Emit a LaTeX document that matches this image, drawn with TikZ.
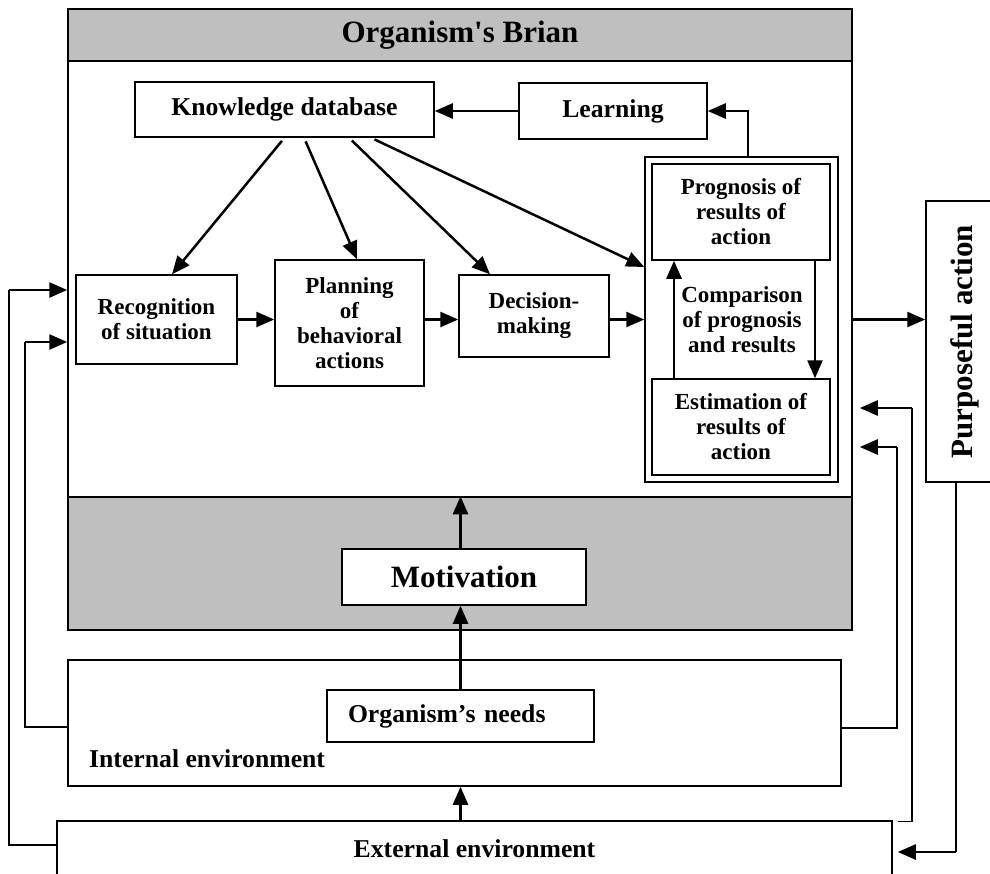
\documentclass[tikz,border=0pt]{standalone}
\usepackage{fontspec}
\setmainfont{Liberation Serif}
\usepackage{graphicx}
\usepackage{tikz}
\usetikzlibrary{arrows.meta}
\newcommand{\titlefont}{\fontsize{31}{34}\selectfont\bfseries}
\newcommand{\namefont}{\fontsize{25.7}{28}\selectfont\bfseries}
\newcommand{\boxfont}{\fontsize{23}{25}\selectfont\bfseries}
\tikzstyle{frame} = [rectangle, draw=black, line width=1.5pt, fill=white, inner sep=0pt]
\tikzstyle{band} = [rectangle, draw=black, line width=1.5pt, fill=black!25, inner sep=0pt]
\tikzstyle{block} = [rectangle, draw=black, line width=1.5pt, fill=white, align=center, inner sep=0pt, font=\boxfont]
\tikzstyle{arrow} = [line width=2.5pt, -{Triangle[length=18pt,width=15pt]}]
\tikzstyle{wire} = [line width=1.5pt]

\begin{document}
\begin{tikzpicture}[x=1pt,y=-1pt]
\useasboundingbox (0,0) rectangle (990,873);

% brain
\node (brain) [frame, minimum width=784pt, minimum height=621pt] at (460,319.5) {};
\node (head) [band, minimum width=784pt, minimum height=52pt, font=\titlefont] at (460,35) {Organism\textquotesingle s Brian};
\node (motband) [band, minimum width=784pt, minimum height=133pt] at (460,563.5) {};

\node (know) [block, minimum width=299pt, minimum height=55pt, font=\namefont] at (284.5,109.5) {Knowledge database};
\node (learn) [block, minimum width=188pt, minimum height=56pt, font=\namefont] at (613,111) {Learning};
\node (rec) [block, minimum width=161pt, minimum height=89pt] at (156.5,319.5) {Recognition\\of situation};
\node (plan) [block, minimum width=149pt, minimum height=126pt] at (349.5,323) {Planning\\of\\behavioral\\actions};
\node (dec) [block, minimum width=150pt, minimum height=82pt] at (534,316) {Decision-\\making};
\node (comp) [block, minimum width=193pt, minimum height=325pt] at (741.5,319.5) {};
\node (prog) [block, minimum width=178pt, minimum height=96pt] at (741,212) {Prognosis of\\results of\\action};
\node (est) [block, minimum width=178pt, minimum height=96pt] at (741,427) {Estimation of\\results of\\action};
\node (cmp) [font=\boxfont, align=center, inner sep=0pt] at (742,320) {Comparison\\of prognosis\\and results};
\node (motiv) [block, minimum width=244pt, minimum height=56pt, font=\titlefont] at (464,577) {Motivation};

% environments
\node (inner) [frame, minimum width=773pt, minimum height=126pt] at (454.5,723) {};
\node (needs) [block, minimum width=267pt, minimum height=52pt, text width=225pt, align=left, font=\namefont] at (460.5,716) {Organism’s needs};
\node (innertxt) [anchor=base west, inner sep=0pt, font=\namefont] at (89,767) {Internal environment};
\node (outer) [frame, minimum width=835pt, minimum height=54pt] at (474.5,848) {};
\node (outertxt) [anchor=base, inner sep=0pt, font=\namefont] at (474.5,857) {External environment};
\node (purp) [block, minimum width=78pt, minimum height=281pt, font=\titlefont] at (965,341.5) {\rotatebox{90}{Purposeful action}};

\coordinate (lin1) at (9,290);
\coordinate (lin2) at (25,342);
\coordinate (rin1) at (912,408);
\coordinate (rin2) at (897,447);
\coordinate (rout) at (956,852);

\draw [arrow] (learn.west) -- (learn.west -| know.east);
\draw [arrow] ([xshift=6.5pt]comp.north) |- (learn.east);
\draw [arrow, shorten <=4pt] (know.south) -- ([xshift=15.5pt]rec.north);
\draw [arrow, shorten <=4pt] ([xshift=19.5pt]know.south) -- ([xshift=7.5pt]plan.north);
\draw [arrow, shorten <=4pt] ([xshift=64.5pt]know.south) -- ([xshift=-44pt]dec.north);
\draw [arrow, shorten <=4pt] ([xshift=86.5pt]know.south) -- ([yshift=52.5pt]comp.west);
\draw [arrow] (rec.east) -- (rec.east -| plan.west);
\draw [arrow] (rec.east -| plan.east) -- (rec.east -| dec.west);
\draw [arrow] (rec.east -| dec.east) -- (rec.east -| comp.west);
\draw [arrow] ([xshift=-67pt]est.north) -- ([xshift=-67pt]prog.south);
\draw [arrow] ([xshift=74pt]prog.south) -- ([xshift=74pt]est.north);
\draw [arrow] (brain.east) -- (brain.east -| purp.west);

\draw [arrow] (needs.north) -- (needs.north |- motiv.south);
\draw [arrow] (needs.north |- motiv.north) -- (needs.north |- motband.north);
\draw [arrow] (needs.north |- outer.north) -- (needs.north |- inner.south);

% feedback loops
\draw [wire] ([yshift=3pt]outer.west) -| (lin1);
\draw [arrow] (lin1) -- (lin1 -| brain.west);
\draw [wire] ([yshift=-4pt]inner.west) -| (lin2);
\draw [arrow] (lin2) -- (lin2 -| brain.west);
\draw [wire] ([yshift=-5pt]inner.east) -| (rin2);
\draw [arrow, shorten >=7pt] (rin2) -- (rin2 -| brain.east);
\draw [wire] ([xshift=5pt,yshift=-1pt]outer.north east) -| (rin1);
\draw [arrow, shorten >=7pt] (rin1) -- (rin1 -| brain.east);
\draw [wire] ([xshift=-9pt]purp.south) -- (rout);
\draw [arrow, shorten >=5pt] (rout) -- (rout -| outer.east);

\end{tikzpicture}
\end{document}
